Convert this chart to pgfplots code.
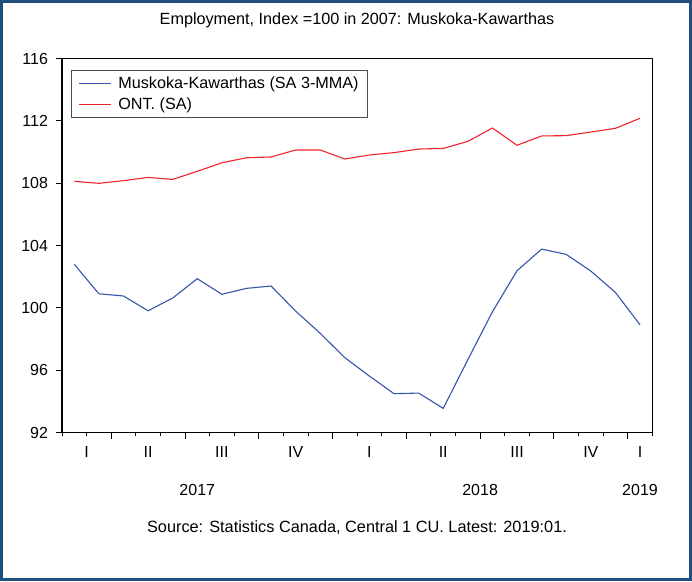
\documentclass[border=0pt]{standalone}
\usepackage{fontspec}
\setmainfont{Liberation Sans}
\usepackage{pgfplots}
\usepackage{pgfplotstable}
\pgfplotsset{compat=1.18}
\definecolor{frameblue}{RGB}{32,78,126}
\definecolor{serblue}{RGB}{55,85,170}
\definecolor{serred}{RGB}{240,35,45}

\pgfplotstableread{
m muskoka ont
1  102.79 108.12
2  100.90 107.99
3  100.76 108.16
4  99.81  108.37
5  100.63 108.24
6  101.87 108.76
7  100.87 109.31
8  101.25 109.63
9  101.40 109.68
10 99.79  110.13
11 98.36  110.13
12 96.80  109.55
13 95.62  109.81
14 94.49  109.96
15 94.53  110.19
16 93.55  110.23
17 96.67  110.68
18 99.75  111.54
19 102.38 110.43
20 103.77 111.03
21 103.43 111.05
22 102.36 111.28
23 100.99 111.52
24 98.91  112.16
}\datatable

\begin{document}
\begin{tikzpicture}[x=1pt,y=1pt]
\useasboundingbox (0,0) rectangle (692,581);
\fill[white] (0,0) rectangle (692,581);
\draw[frameblue, line width=3pt] (1.5,1.5) rectangle (690.5,579.5);
\node[font=\fontsize{16.2}{19}\selectfont] at (357,561) {Employment, Index =100 in 2007: Muskoka-Kawarthas};
\node[font=\fontsize{16.3}{19}\selectfont] at (357,53) {Source: Statistics Canada, Central 1 CU. Latest: 2019:01.};
\begin{axis}[
  at={(62pt,148.5pt)}, anchor=south west,
  width=590.3pt, height=374pt, scale only axis,
  xmin=0.5, xmax=24.5, ymin=92, ymax=116,
  ytick={92,96,...,116},
  xtick={2.5,5.5,8.5,11.5,14.5,17.5,20.5,23.5},
  xticklabels={},
  minor xtick={0.5,1.5,...,24.5},
  extra x ticks={1.5,4,7,10,13,16,19,22,24},
  extra x tick labels={I,II,III,IV,I,II,III,IV,I},
  extra x tick style={major tick length=0pt},
  tick pos=left, tick align=outside,
  major tick length=6.5pt, minor tick length=3.5pt,
  tick style={black, line width=0.9pt},
  axis line style={line width=1.2pt},
  ticklabel style={font=\fontsize{16}{19}\selectfont},
  xticklabel style={yshift=-10pt},
  yticklabel style={xshift=-4pt},
  /pgf/number format/assume math mode=true,
  clip=false,
  legend style={at={(0.015,0.969)}, anchor=north west, draw=black!70, line width=0.7pt,
    font=\fontsize{16.2}{19}\selectfont, cells={anchor=west}, row sep=3.5pt,
    inner xsep=7pt, inner ysep=4.5pt},
  legend image code/.code={\draw[#1] (0pt,0pt) -- (32pt,0pt); \path (37pt,0pt);},
]
\addplot[serblue, line width=1.1pt] table[x=m, y=muskoka] {\datatable};
\addlegendentry{Muskoka-Kawarthas (SA 3-MMA)}
\addplot[serred, line width=1.1pt] table[x=m, y=ont] {\datatable};
\addlegendentry{ONT. (SA)}
\node[font=\fontsize{16}{19}\selectfont, yshift=-57.5pt] at (axis cs:6,92) {2017};
\node[font=\fontsize{16}{19}\selectfont, yshift=-57.5pt] at (axis cs:17.5,92) {2018};
\node[font=\fontsize{16}{19}\selectfont, yshift=-57.5pt] at (axis cs:24,92) {2019};
\end{axis}
\end{tikzpicture}
\end{document}
